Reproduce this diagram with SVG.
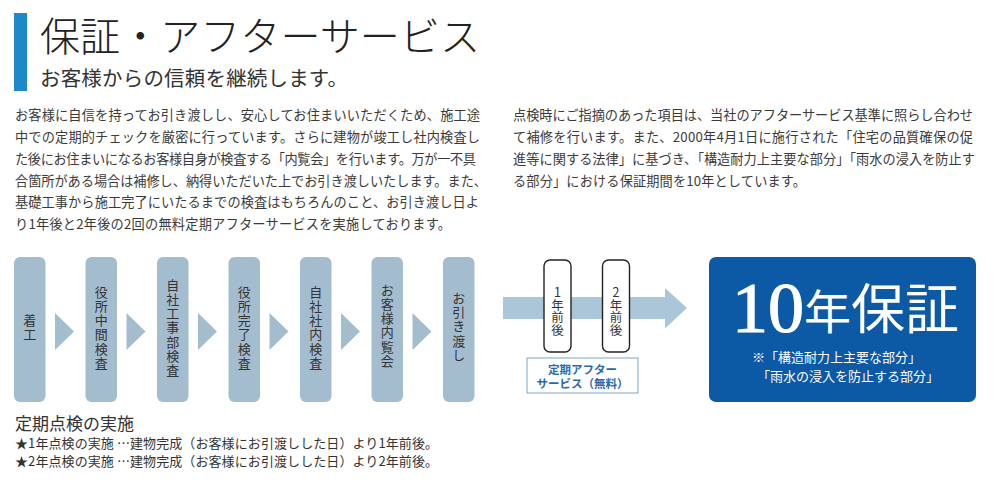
<svg xmlns="http://www.w3.org/2000/svg" width="1000" height="487" viewBox="0 0 1000 487">
<style>
text{font-family:'Noto Sans CJK JP','Noto Sans',sans-serif;fill:#333}
.title{font-family:'Liberation Serif','Noto Sans CJK JP',serif;font-size:40px;font-weight:300;fill:#222}
.sub{font-size:20.5px;fill:#333}
.p{font-size:13.2px;fill:#3a3a3a}
.box{fill:#a3bdcf}
.tri{fill:#a3bdcf}
.vt{writing-mode:vertical-rl;text-orientation:upright;text-anchor:middle;font-size:13px;letter-spacing:1.2px;fill:#333}
.vs{writing-mode:vertical-rl;text-orientation:upright;text-anchor:middle;font-size:12.5px;fill:#333}
.small{fill:#fff;stroke:#222;stroke-width:1.4}
.lbl{font-size:11.5px;font-weight:bold;fill:#2a6aa8;text-anchor:middle}
.note{font-size:13px;fill:#fff}
.b{font-size:13px;fill:#333}
</style>
<rect x="0" y="0" width="1000" height="487" fill="#fff"/>
<g id="heading">
<rect x="14" y="13" width="13" height="78" fill="#1e88c8"/>
<text class="title" x="40" y="51" textLength="440" lengthAdjust="spacingAndGlyphs">保証・アフターサービス</text>
<text class="sub" x="40" y="86" textLength="308">お客様からの信頼を継続します。</text>
</g>
<g id="para-left">
<text class="p" x="15" y="120" textLength="465">お客様に自信を持ってお引き渡しし、安心してお住まいいただくため、施工途</text>
<text class="p" x="15" y="142" textLength="465">中での定期的チェックを厳密に行っています。さらに建物が竣工し社内検査し</text>
<text class="p" x="15" y="164" textLength="461">た後にお住まいになるお客様自身が検査する「内覧会」を行います。万が一不具</text>
<text class="p" x="15" y="185.5" textLength="472">合箇所がある場合は補修し、納得いただいた上でお引き渡しいたします。また、</text>
<text class="p" x="15" y="207" textLength="464">基礎工事から施工完了にいたるまでの検査はもちろんのこと、お引き渡し日よ</text>
<text class="p" x="15" y="229" textLength="436">り1年後と2年後の2回の無料定期アフターサービスを実施しております。</text>
</g>
<g id="para-right">
<text class="p" x="513" y="120" textLength="460">点検時にご指摘のあった項目は、当社のアフターサービス基準に照らし合わせ</text>
<text class="p" x="513" y="142" textLength="460">て補修を行います。また、2000年4月1日に施行された「住宅の品質確保の促</text>
<text class="p" x="513" y="164" textLength="462">進等に関する法律」に基づき、「構造耐力上主要な部分」「雨水の浸入を防止す</text>
<text class="p" x="513" y="185.5" textLength="293">る部分」における保証期間を10年としています。</text>
</g>
<g id="connectors">
<polygon class="tri" points="55,313 74,331.5 55,350"/>
<polygon class="tri" points="126.5,313 145.5,331.5 126.5,350"/>
<polygon class="tri" points="198,313 217,331.5 198,350"/>
<polygon class="tri" points="269.5,313 288.5,331.5 269.5,350"/>
<polygon class="tri" points="341,313 360,331.5 341,350"/>
<polygon class="tri" points="412.5,313 431.5,331.5 412.5,350"/>
<polygon points="503,297 665,297 665,288 687,308 665,328.5 665,319 503,319" fill="#abc6d8"/>
</g>
<g id="step1"><rect class="box" x="14" y="257" width="31.5" height="145" rx="6"/><text class="vt" x="29.75" y="328">着工</text></g>
<g id="step2"><rect class="box" x="85.5" y="257" width="31.5" height="145" rx="6"/><text class="vt" x="101.25" y="328">役所中間検査</text></g>
<g id="step3"><rect class="box" x="157" y="257" width="31.5" height="145" rx="6"/><text class="vt" x="172.75" y="328">自社工事部検査</text></g>
<g id="step4"><rect class="box" x="228.5" y="257" width="31.5" height="145" rx="6"/><text class="vt" x="244.25" y="328">役所完了検査</text></g>
<g id="step5"><rect class="box" x="300" y="257" width="31.5" height="145" rx="6"/><text class="vt" x="315.75" y="328">自社社内検査</text></g>
<g id="step6"><rect class="box" x="371.5" y="257" width="31.5" height="145" rx="6"/><text class="vt" x="387.25" y="326">お客様内覧会</text></g>
<g id="step7"><rect class="box" x="443" y="257" width="31.5" height="145" rx="6"/><text class="vt" x="458.75" y="327">お引き渡し</text></g>
<g id="after1"><rect class="small" x="544" y="260" width="27" height="92" rx="6"/><text class="vs" x="557.5" y="311">1年前後</text></g>
<g id="after2"><rect class="small" x="602.5" y="260" width="27" height="92" rx="6"/><text class="vs" x="616" y="311">2年前後</text></g>
<g id="after-label">
<rect x="527" y="358" width="111" height="35" fill="#fff" stroke="#7aa6c6" stroke-width="1"/>
<text class="lbl" x="582.5" y="373.5">定期アフター</text>
<text class="lbl" x="582.5" y="388">サービス（無料）</text>
</g>
<g id="warranty">
<rect x="709" y="257" width="267" height="145" rx="7" fill="#0c59a6"/>
<text x="732" y="332" style="fill:#fff"><tspan style="font-family:'Liberation Serif',serif;font-size:72px;stroke:#fff;stroke-width:1.2">10</tspan><tspan style="font-size:47px" dy="-3">年</tspan><tspan style="font-size:54px">保証</tspan></text>
<text class="note" x="752" y="362">※「構造耐力上主要な部分」</text>
<text class="note" x="757" y="380.5">「雨水の浸入を防止する部分」</text>
</g>
<g id="schedule">
<text x="15" y="430" style="font-size:17px;fill:#333">定期点検の実施</text>
<text class="b" x="15" y="448" textLength="423">★1年点検の実施 …建物完成（お客様にお引渡しした日）より1年前後。</text>
<text class="b" x="15" y="466" textLength="423">★2年点検の実施 …建物完成（お客様にお引渡しした日）より2年前後。</text>
</g>
</svg>
